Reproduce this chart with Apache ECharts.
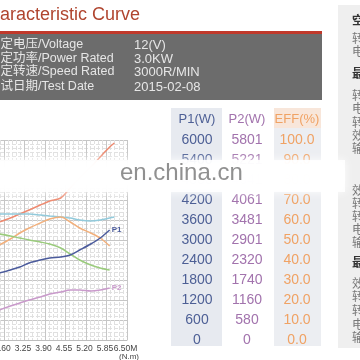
<!DOCTYPE html>
<html><head><meta charset="utf-8">
<script src="https://cdn.jsdelivr.net/npm/echarts@6/dist/echarts.min.js"></script>
<style>html,body{margin:0;padding:0;background:#fff}#c{width:360px;height:360px}</style>
</head><body><div id="c"></div>
<script>
// x axis: torque M (N.m)
const torque = [2.45, 2.8, 3.1, 3.4, 3.75, 4.05, 4.4, 4.7, 5.0, 5.35, 5.65, 5.95, 6.1];
const current = [59, 61, 63, 65, 67.5, 69.5, 71, 76, 81, 86.5, 91.5, 96.5, 98.5];
const voltage = [63, 63, 63, 63, 62.5, 62, 61.5, 61, 60, 59.5, 60, 61, 61.5];
const eff = [47.5, 50.5, 53.5, 56, 58.5, 60.5, 61.5, 59, 56, 53.5, 51, 47, null];
const speed = [53, 52, 51, 50, 49, 48, 46, 43, 40, 37.5, 36, 35, null];
const p1 = [2010, 2100, 2190, 2310, 2400, 2460, 2490, 2550, 2700, 2880, 3060, 3300, null];
const p2 = [870, 986, 1073, 1160, 1247, 1334, 1392, 1450, 1450, 1421, 1450, 1508, null];

const xTicks = ['0.00', '0.65', '1.30', '1.95', '2.60', '3.25', '3.90', '4.55', '5.20', '5.85', '6.50M'];
const p1Ticks = ['0', '600', '1200', '1800', '2400', '3000', '3600', '4200', '4800', '5400', '6000'];
const p2Ticks = ['0', '580', '1160', '1740', '2320', '2901', '3481', '4061', '4641', '5221', '5801'];
const effTicks = ['0.0', '10.0', '20.0', '30.0', '40.0', '50.0', '60.0', '70.0', '80.0', '90.0', '100.0'];

const infoLabels = ['额定电压/Voltage', '额定功率/Power Rated', '额定转速/Speed Rated', '测试日期/Test Date'];
const infoValues = ['12(V)', '3.0KW', '3000R/MIN', '2015-02-08'];
const sideChars = ['空', '转', '电', '最', '转', '电', '转', '效', '输', '效', '转', '转', '电', '输', '最', '效', '转', '转', '电', '输'];
const sideBold = [true, false, false, true, false, false, false, false, false, false, false, false, false, false, true, false, false, false, false, false];

const pair = arr => torque.map((t, i) => [t, arr[i]]);
const FONT = '"Liberation Sans", Arial, sans-serif';

const chart = echarts.init(document.getElementById('c'), null, {renderer: 'canvas'});

const graphic = [];
graphic.push({type: 'rect', shape: {x: 171, y: 108, width: 51, height: 238}, style: {fill: '#e7eaf0'}, z: -10});
graphic.push({type: 'rect', shape: {x: 274, y: 108, width: 47, height: 238}, style: {fill: '#eceef2'}, z: -10});
graphic.push({type: 'rect', shape: {x: 274, y: 108, width: 47, height: 20}, style: {fill: '#f8e6da'}, z: -9});
graphic.push({type: 'rect', shape: {x: 338, y: 5, width: 30, height: 343}, style: {fill: '#efefef'}, z: -10});
const sideY = [20, 38, 51, 73, 95, 108, 122, 135, 148, 190, 203, 216, 229, 242, 262, 283, 296, 310, 324, 337];
sideChars.forEach((ch, i) => {
  graphic.push({type: 'text', x: 352, y: sideY[i], style: {text: ch, fill: sideBold[i] ? '#333' : '#777', font: (sideBold[i] ? 'bold ' : '') + '12px "Noto Sans CJK SC"', textVerticalAlign: 'middle'}, z: 5});
});
graphic.push({type: 'text', x: 0, y: 15, style: {text: 'aracteristic Curve', fill: '#b0452f', font: '18px ' + FONT, textVerticalAlign: 'middle'}});
graphic.push({type: 'rect', shape: {x: -5, y: 31, width: 327, height: 69}, style: {fill: '#6c6c6c'}});
graphic.push({type: 'rect', shape: {x: -5, y: 31, width: 327, height: 3}, style: {fill: '#c0392b'}});
const infoY = [45, 59, 72, 87];
infoLabels.forEach((t, i) => {
  graphic.push({type: 'text', x: -12, y: infoY[i], style: {text: t, fill: '#e6e6e6', font: '12.5px ' + FONT + ', "Noto Sans CJK SC"', textVerticalAlign: 'middle'}});
  graphic.push({type: 'text', x: 134, y: infoY[i], style: {text: infoValues[i], fill: '#e6e6e6', font: '13px ' + FONT, textVerticalAlign: 'middle'}});
});
graphic.push({type: 'text', x: 197, y: 119, style: {text: 'P1(W)', fill: '#4d5f95', font: '13px ' + FONT, textAlign: 'center', textVerticalAlign: 'middle'}});
graphic.push({type: 'text', x: 247, y: 119, style: {text: 'P2(W)', fill: '#a273ad', font: '13px ' + FONT, textAlign: 'center', textVerticalAlign: 'middle'}});
graphic.push({type: 'text', x: 297, y: 119, style: {text: 'EFF(%)', fill: '#f0a264', font: '13px ' + FONT, textAlign: 'center', textVerticalAlign: 'middle'}});
graphic.push({type: 'text', x: 129, y: 357, style: {text: '(N.m)', fill: '#444', font: '8px ' + FONT, textAlign: 'center', textVerticalAlign: 'middle'}});
graphic.push({type: 'rect', shape: {x: -10, y: 160, width: 355, height: 32}, style: {fill: 'rgba(255,255,255,0.9)', shadowBlur: 10, shadowColor: '#ffffff'}, z: 90});
graphic.push({type: 'text', x: 120, y: 173, style: {text: 'en.china.cn', fill: 'rgba(125,125,125,0.85)', font: '24px ' + FONT, textVerticalAlign: 'middle'}, z: 95});

const rightAxis = (idx, max, interval, ticks, color, offset) => ({
  type: 'value', position: 'right', min: 0, max: max, interval: interval, offset: offset,
  axisLine: {show: false}, axisTick: {show: false},
  splitLine: {show: idx === 0, lineStyle: {color: '#c6c6c6', width: 1}},
  minorSplitLine: {show: idx === 0, lineStyle: {color: '#e0e0e0', type: 'dashed', width: 1}},
  minorTick: {show: false, splitNumber: 5},
  axisLabel: {
    show: true, margin: 0, align: 'center', color: color, fontSize: 14, fontFamily: FONT,
    showMinLabel: true, showMaxLabel: true,
    formatter: v => ticks[Math.round(v / interval)]
  }
});

const line = (name, data, color, yIdx, label) => ({
  name: name, type: 'line', data: pair(data), yAxisIndex: yIdx, smooth: 0.3,
  showSymbol: false, connectNulls: false,
  lineStyle: {color: color, width: 1.5}, itemStyle: {color: color},
  endLabel: label ? {show: true, formatter: label, color: color, fontSize: 8, distance: 2, fontWeight: 'bold'} : {show: false},
  z: 3
});

const xLabelBase = {color: '#444', fontSize: 8.5, fontFamily: FONT, margin: 4, hideOverlap: false, interval: 0, padding: [0, 3, 0, 0]};

chart.setOption({
  animation: false,
  backgroundColor: '#ffffff',
  grid: {left: -78, right: 233, top: 140, bottom: 20, containLabel: false, outerBoundsMode: 'none'},
  xAxis: [{
    type: 'value', min: 0, max: 6.5, interval: 0.65,
    axisLine: {show: true, lineStyle: {color: '#bdbdbd'}}, axisTick: {show: false},
    splitLine: {show: true, lineStyle: {color: '#c6c6c6', width: 1}},
    minorTick: {show: false, splitNumber: 5},
    minorSplitLine: {show: true, lineStyle: {color: '#e0e0e0', type: 'dashed', width: 1}},
    axisLabel: Object.assign({}, xLabelBase, {showMinLabel: true, showMaxLabel: false,
      formatter: v => { const i = Math.round(v / 0.65); return i < 10 ? xTicks[i] : ''; }})
  }, {
    type: 'value', min: 0, max: 6.5, interval: 0.65, position: 'bottom',
    axisLine: {show: false}, axisTick: {show: false}, splitLine: {show: false},
    axisLabel: Object.assign({}, xLabelBase, {showMaxLabel: true,
      formatter: v => { const i = Math.round(v / 0.65); return i === 10 ? xTicks[i] : ''; }})
  }],
  yAxis: [
    rightAxis(0, 6000, 600, p1Ticks, '#4d5f95', 70),
    rightAxis(1, 5801, 580.1, p2Ticks, '#a273ad', 120),
    rightAxis(2, 100, 10, effTicks, '#f0a264', 170),
    {type: 'value', min: 0, max: 100, interval: 10, show: false, splitLine: {show: false}}
  ],
  graphic: graphic,
  series: [
    line('I', current, '#ee8a70', 3),
    line('U', voltage, '#92cadb', 3),
    line('EFF', eff, '#f2b07c', 2),
    line('n', speed, '#9acb7c', 3),
    line('P1', p1, '#4b5b9c', 0, 'P1'),
    line('P2', p2, '#c99acb', 1, 'P2')
  ]
});
</script></body></html>
